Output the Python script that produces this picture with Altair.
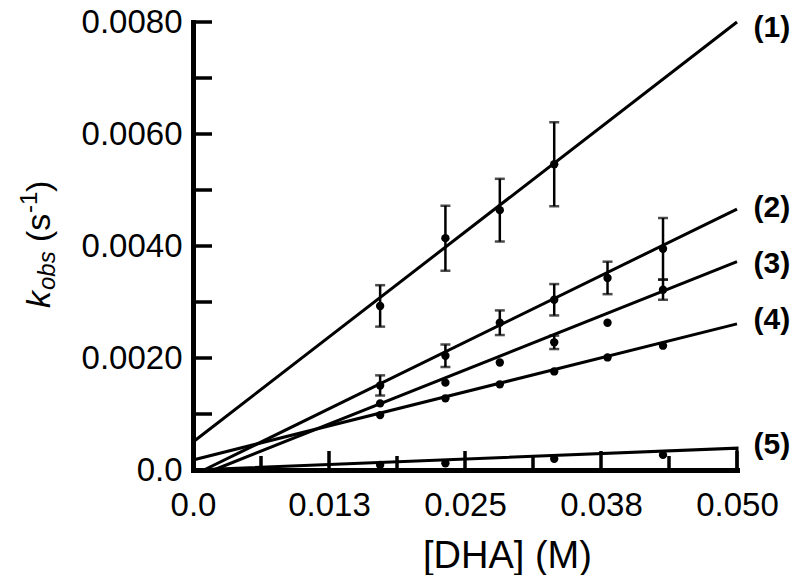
import altair as alt
import pandas as pd

# ---------------- data ----------------
dha = [0.0172, 0.0232, 0.0282, 0.0332, 0.0381, 0.0432]

k1 = [0.00293, 0.00414, 0.00464, 0.00546, None, None]
e1 = [0.00037, 0.00058, 0.00056, 0.00075, None, None]
k2 = [0.00151, 0.00204, 0.00263, 0.00304, 0.00343, 0.00395]
e2 = [0.00018, 0.00020, 0.00022, 0.00028, 0.00029, 0.00055]
k3 = [0.00119, 0.00156, 0.00192, 0.00228, 0.00263, 0.00322]
e3 = [None, None, None, 0.00012, None, 0.00018]
k4 = [0.00098, 0.00128, 0.00153, 0.00176, 0.00201, 0.00222]
e4 = [None, None, None, None, None, None]
k5 = [0.00009, 0.00012, None, 0.00020, None, 0.00027]
e5 = [None, None, None, None, None, None]

series_names = ["(1)", "(2)", "(3)", "(4)", "(5)"]

# fitted straight lines: start and end points
fit_x0 = [0.0, 0.0010, 0.0019, 0.0, 0.0]
fit_y0 = [0.00050, 0.0, 0.0, 0.00018, 0.0]
fit_x1 = [0.050, 0.050, 0.050, 0.050, 0.050]
fit_y1 = [0.00800, 0.00466, 0.00372, 0.00261, 0.00039]

# series labels at the right
label_x = [0.0532, 0.0532, 0.0532, 0.0532, 0.0532]
label_y = [0.00790, 0.00468, 0.00368, 0.00267, 0.00044]

x_ticks_major = [0.0, 0.0125, 0.025, 0.0375, 0.05]
x_tick_labels = ["0.0", "0.013", "0.025", "0.038", "0.050"]
x_ticks_minor = [0.00625, 0.01875, 0.03125, 0.04375]
y_ticks_major = [0.0, 0.002, 0.004, 0.006, 0.008]
y_tick_labels = ["0.0", "0.0020", "0.0040", "0.0060", "0.0080"]
y_ticks_all = [0.001, 0.002, 0.003, 0.004, 0.005, 0.006, 0.007, 0.008]

# ---------------- tables ----------------
ks = [k1, k2, k3, k4, k5]
es = [e1, e2, e3, e4, e5]
pts, errs, caps = [], [], []
for name, kk, ee in zip(series_names, ks, es):
    for x, k, e in zip(dha, kk, ee):
        if k is None:
            continue
        pts.append({"s": name, "x": x, "y": k})
        if e:
            errs.append({"s": name, "x": x, "lo": k - e, "hi": k + e})
            caps.append({"s": name, "x": x, "y": k - e})
            caps.append({"s": name, "x": x, "y": k + e})
pts = pd.DataFrame(pts)
errs = pd.DataFrame(errs)
caps = pd.DataFrame(caps)

fits = []
for i, name in enumerate(series_names):
    fits.append({"s": name, "o": 0, "x": fit_x0[i], "y": fit_y0[i]})
    fits.append({"s": name, "o": 1, "x": fit_x1[i], "y": fit_y1[i]})
# series (5) closes down onto the axis at the right end
fits.append({"s": "(5)", "o": 2, "x": fit_x1[4], "y": 0.0})
fits = pd.DataFrame(fits)

labels = pd.DataFrame({"s": series_names, "x": label_x, "y": label_y})
xt_major = pd.DataFrame({"x": x_ticks_major[1:]})
xt_minor = pd.DataFrame({"x": x_ticks_minor})
yt = pd.DataFrame({"y": y_ticks_all})

W, H = 544, 448
FONT = "Liberation Sans"

xs = alt.Scale(domain=[0, 0.05], nice=False, zero=False)
ys = alt.Scale(domain=[0, 0.008], nice=False, zero=False)

xlab_expr = "[" + ",".join("'%s'" % t for t in x_tick_labels) + "][round(datum.value / 0.0125)]"
ylab_expr = "[" + ",".join("'%s'" % t for t in y_tick_labels) + "][round(datum.value / 0.002)]"

xaxis = alt.Axis(values=x_ticks_major, labelExpr=xlab_expr, title="[DHA] (M)",
                 ticks=False, labelPadding=19, labelFlush=False, labelOverlap=False,
                 titleX=314, titleY=97, titleAlign="center", titleBaseline="alphabetic",
                 titleFontSize=38, titleFontWeight="normal")
yaxis = alt.Axis(values=y_ticks_major, labelExpr=ylab_expr, title=None,
                 ticks=False, labelPadding=11, labelFlush=False, labelOverlap=False,
                 labelBaseline="middle")

X = lambda f="x": alt.X(f + ":Q", scale=xs, axis=xaxis)
Y = lambda f="y": alt.Y(f + ":Q", scale=ys, axis=yaxis)

fit_layer = alt.Chart(fits).mark_line(color="black", strokeWidth=3).encode(
    x=X(), y=Y(), detail="s:N", order="o:Q")
err_layer = alt.Chart(errs).mark_rule(color="black", strokeWidth=2.5).encode(
    x=X(), y=Y("lo"), y2="hi:Q")
cap_layer = alt.Chart(caps).mark_tick(color="black", orient="horizontal", size=10,
                                      thickness=2.5).encode(x=X(), y=Y())
pt_layer = alt.Chart(pts).mark_circle(color="black", size=70, opacity=1).encode(
    x=X(), y=Y())
lab_layer = alt.Chart(labels).mark_text(font=FONT, fontSize=30, fontWeight="bold",
                                        align="center", baseline="middle",
                                        color="black").encode(
    x=X(), y=Y(), text="s:N")

xt_maj_layer = alt.Chart(xt_major).mark_rule(color="black", strokeWidth=3.5).encode(
    x=X(), y=alt.value(H), y2=alt.value(H - 19))
xt_min_layer = alt.Chart(xt_minor).mark_rule(color="black", strokeWidth=3.5).encode(
    x=X(), y=alt.value(H), y2=alt.value(H - 14))
yt_layer = alt.Chart(yt).mark_rule(color="black", strokeWidth=3.5).encode(
    y=Y(), x=alt.value(0), x2=alt.value(19))

# y axis title: k_obs (s^-1), built from pieces (rotated)
TX = -143
def piece(text, x, y, size, style="normal"):
    return alt.Chart(pd.DataFrame({"t": [text]})).mark_text(
        font=FONT, fontSize=size, fontStyle=style, angle=270, align="left",
        baseline="alphabetic", color="black").encode(
        x=alt.value(x), y=alt.value(y), text="t:N")

title_layers = [
    piece("k", TX, 286, 34, "italic"),
    piece("obs", TX + 5, 268, 24, "italic"),
    piece("(s", TX, 220, 34),
    piece("-1", TX - 13, 191, 24),
    piece(")", TX, 170, 34),
]

chart = alt.layer(
    xt_maj_layer, xt_min_layer, yt_layer, fit_layer, err_layer, cap_layer,
    pt_layer, lab_layer, *title_layers
).properties(
    width=W, height=H,
    padding={"left": 185, "top": 14, "right": 55, "bottom": 105},
    autosize=alt.AutoSizeParams(type="none"),
).configure_view(stroke=None).configure_axis(
    grid=False, domainColor="black", domainWidth=5, domainCap="square",
    labelFont=FONT, labelFontSize=33, labelColor="black",
    titleFont=FONT, titleColor="black",
)

chart.save("out.html", embed_options={"renderer": "svg", "actions": False})
